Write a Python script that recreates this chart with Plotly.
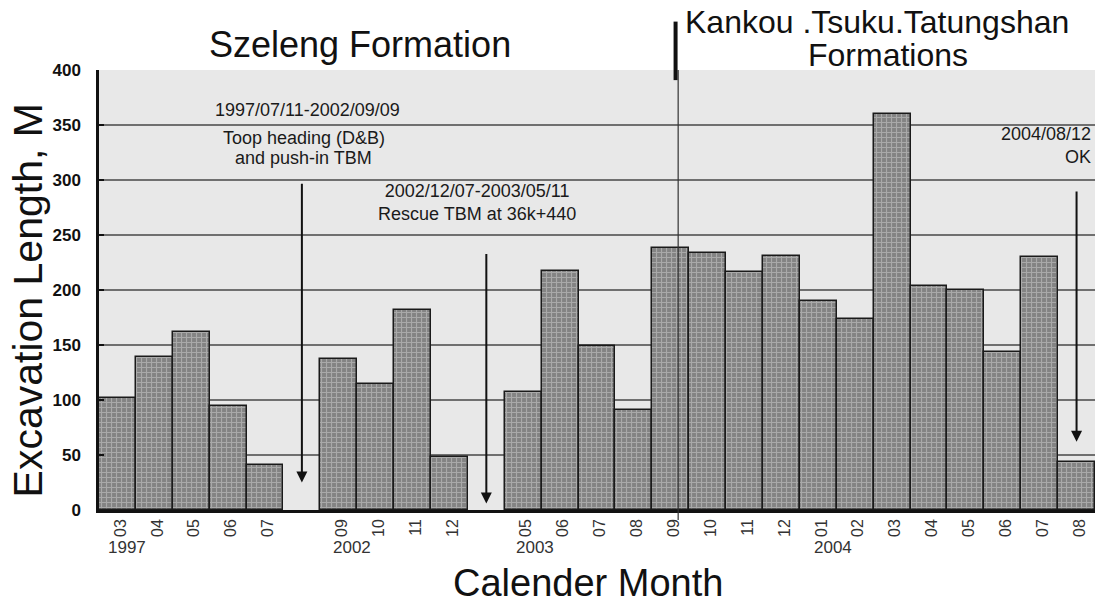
import plotly.graph_objects as go

# ---- data ----
months_1997 = ["03", "04", "05", "06", "07"]
length_1997 = [102, 139, 162, 95, 41]
months_2002 = ["09", "10", "11", "12"]
length_2002 = [137, 115, 182, 48]
months_2003 = ["05", "06", "07", "08", "09", "10", "11", "12"]
length_2003 = [107, 217, 149, 91, 238, 234, 216, 231]
months_2004 = ["01", "02", "03", "04", "05", "06", "07", "08"]
length_2004 = [190, 174, 360, 204, 200, 144, 230, 44]
y_ticks = [0, 50, 100, 150, 200, 250, 300, 350, 400]

groups = [
    ("1997", months_1997, length_1997, True),
    ("2002", months_2002, length_2002, True),
    ("2003", months_2003, length_2003, False),
    ("2004", months_2004, length_2004, False),
]

categories, values, tick_text, year_first = [], [], [], {}
for year, months, vals, gap_after in groups:
    year_first[year] = len(categories)
    for m, v in zip(months, vals):
        categories.append(f"{year}-{m}")
        values.append(v)
        tick_text.append(m)
    if gap_after:
        categories.append(f"gap-{year}")
        values.append(None)
        tick_text.append("")

FONT = "Liberation Sans, Arial, sans-serif"
INK = "#1a1a1a"

fig = go.Figure()
fig.add_trace(go.Bar(
    x=categories, y=values,
    marker=dict(
        color="#8c8c8c",
        line=dict(color="#1a1a1a", width=1.5),
        pattern=dict(shape="+", fgcolor="#d0d0d0", bgcolor="#838383",
                     size=5, solidity=0.4),
    ),
    hoverinfo="x+y",
))

idx = {c: i for i, c in enumerate(categories)}

annotations = []
# year labels under month ticks
for year, xshift in [("1997", -11), ("2002", -8), ("2003", -9), ("2004", -6)]:
    annotations.append(dict(
        x=year_first[year], xref="x", y=-0.085, yref="paper",
        text=year, showarrow=False, xanchor="left", yanchor="middle",
        xshift=xshift, font=dict(family=FONT, size=17, color="#333333")))

# arrows
arrows = [("gap-1997", 298, 25), ("gap-2002", 234, 6), ("2004-08", 291, 62)]
for cat, tail, head in arrows:
    annotations.append(dict(
        x=idx[cat], y=head, ax=idx[cat], ay=tail, xref="x", yref="y",
        axref="x", ayref="y", text="", showarrow=True,
        arrowhead=2, arrowsize=1.1, arrowwidth=2, arrowcolor="#111111"))

# event texts
annotations += [
    dict(x=idx["gap-1997"] + 0.15, y=364, xref="x", yref="y",
         text="1997/07/11-2002/09/09", showarrow=False, xanchor="center",
         font=dict(family=FONT, size=18, color=INK)),
    dict(x=idx["gap-1997"] + 0.05, y=338, xref="x", yref="y",
         text="Toop heading (D&B)", showarrow=False, xanchor="center",
         font=dict(family=FONT, size=18, color=INK)),
    dict(x=idx["gap-1997"] + 0.05, y=320, xref="x", yref="y",
         text="and push-in TBM", showarrow=False, xanchor="center",
         font=dict(family=FONT, size=18, color=INK)),
    dict(x=idx["gap-2002"] - 0.25, y=280, xref="x", yref="y",
         text="2002/12/07-2003/05/11<br>Rescue TBM at 36k+440", showarrow=False,
         xanchor="center",
         font=dict(family=FONT, size=18, color=INK)),
    dict(x=0.998, xref="paper", y=331, yref="y", xanchor="right", align="right",
         text="2004/08/12<br>OK", showarrow=False,
         font=dict(family=FONT, size=18, color=INK)),
    # formation titles
    dict(x=0.262, xref="paper", y=1.057, yref="paper", xanchor="center",
         text="Szeleng Formation", showarrow=False, yanchor="middle",
         font=dict(family=FONT, size=36, color="#111111")),
    dict(x=0.781, xref="paper", y=1.109, yref="paper", xanchor="center",
         text="Kankou .Tsuku.Tatungshan", showarrow=False, yanchor="middle",
         font=dict(family=FONT, size=32, color="#111111")),
    dict(x=0.792, xref="paper", y=1.034, yref="paper", xanchor="center",
         text="Formations", showarrow=False, yanchor="middle",
         font=dict(family=FONT, size=32, color="#111111")),
    # axis titles
    dict(x=0.491, xref="paper", y=-0.166, yref="paper", xanchor="center",
         text="Calender Month", showarrow=False, yanchor="middle",
         font=dict(family=FONT, size=38, color="#111111")),
    dict(x=-0.071, xref="paper", y=0.477, yref="paper", textangle=-90,
         text="Excavation Length, M", showarrow=False,
         xanchor="center", yanchor="middle",
         font=dict(family=FONT, size=41, color="#111111")),
]

boundary = idx["2003-09"] + 0.2
shapes = [
    dict(type="line", x0=boundary, x1=boundary, y0=-0.023, y1=1.0,
         xref="x", yref="paper", line=dict(color="#333333", width=1.2)),
    dict(type="line", x0=boundary - 0.07, x1=boundary - 0.07, y0=0.977, y1=1.11,
         xref="x", yref="paper", line=dict(color="#111111", width=4)),
]

fig.update_layout(
    width=1095, height=603,
    margin=dict(l=99, r=0, t=70, b=93),
    paper_bgcolor="white", plot_bgcolor="#e8e8e8",
    bargap=0, showlegend=False,
    font=dict(family=FONT),
    annotations=annotations, shapes=shapes,
    xaxis=dict(
        type="category", categoryorder="array", categoryarray=categories,
        tickmode="array", tickvals=categories, ticktext=tick_text,
        tickangle=-90, tickfont=dict(family=FONT, size=16, color="#333333"),
        ticklabelshift=3,
        showgrid=False, showline=True, linecolor="#111111", linewidth=2.5,
        ticks="", range=[-0.5, len(categories) - 0.5],
    ),
    yaxis=dict(
        range=[0, 400], tickvals=y_ticks,
        tickfont=dict(family=FONT, size=17, color="#111111", weight="bold"),
        showgrid=True, gridcolor="#6f6f6f", gridwidth=1.5,
        showline=True, linecolor="#111111", linewidth=2.5,
        ticks="inside", ticklen=5, tickwidth=1.5, tickcolor="#111111",
        ticklabelstandoff=12, zeroline=False,
    ),
)

fig.write_html("out.html", config={"displayModeBar": False},
               post_script="document.body.style.margin='0';document.body.style.overflow='hidden';")
